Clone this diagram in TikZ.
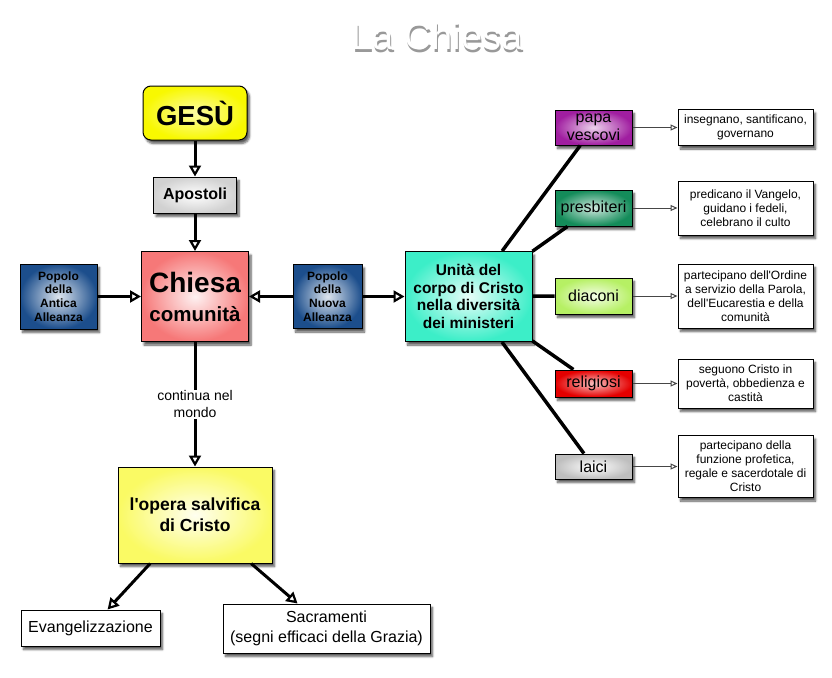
\documentclass[tikz,border=0pt]{standalone}
\usepackage{fontspec}
\setmainfont{Liberation Sans}
\usetikzlibrary{arrows.meta,shadows,shadows.blur,positioning}

\definecolor{gesuY}{RGB}{248,248,0}
\definecolor{chiesaR}{RGB}{246,120,120}
\definecolor{popoloB}{RGB}{28,78,140}
\definecolor{unitaT}{RGB}{60,238,200}
\definecolor{papaP}{RGB}{160,30,160}
\definecolor{presbG}{RGB}{20,140,90}
\definecolor{diacG}{RGB}{182,240,100}
\definecolor{religR}{RGB}{228,0,0}
\definecolor{laiciG}{RGB}{190,190,190}
\definecolor{operaY}{RGB}{250,250,100}
\definecolor{thinline}{RGB}{70,70,70}

\newcommand{\fs}[2]{\fontsize{#1}{#2}\selectfont}

\begin{document}
\begin{tikzpicture}[x=1pt,y=-1pt,
  box/.style={draw=black, line width=1pt, inner sep=2pt, align=center,
    blur shadow={shadow blur steps=6, shadow xshift=2.5pt, shadow yshift=-3.5pt,
      shadow opacity=65}},
  glow/.style 2 args={inner color=#1, outer color=#2},
  ministry/.style={box, inner sep=0pt, minimum width=77pt, font=\fs{16}{18}},
  desc/.style={box, fill=white, minimum width=135pt, font=\fs{12}{14}},
  bigarrow/.style={-{Triangle[open, length=11pt, width=12pt, line width=2.2pt]},
    line width=3pt},
  thinarrow/.style={-{Triangle[open, length=7pt, width=6pt]}, line width=1pt,
    draw=thinline},
  link/.style={line width=3.5pt},
  node distance=152pt]

  \useasboundingbox (0,0) rectangle (832,677);

  % title
  \node[text=black!40, font=\fs{38}{42}] (titleshade) at (438,38.5) {La Chiesa};
  \node[text=white, font=\fs{38}{42}] (title) at (437,36) {La Chiesa};

  % left column
  \node[box, glow={gesuY!35!white}{gesuY}, rounded corners=8pt,
    minimum width=104pt, minimum height=54pt, font=\bfseries\fs{27.5}{30}]
    (gesu) at (195,113) {GESÙ};
  \node[box, glow={white}{laiciG!70!white}, minimum width=83pt, minimum height=36pt,
    font=\bfseries\fs{16}{18}] (apostoli) at (195,195) {Apostoli};
  \node[box, glow={chiesaR!10!white}{chiesaR}, minimum width=107pt, minimum height=90pt,
    font=\bfseries\fs{28}{29}] (chiesa) at (195,296.5)
    {Chiesa\\\fs{20.5}{29}comunità};
  \node[box, glow={popoloB!15!white}{popoloB}, minimum width=77pt, minimum height=65pt,
    font=\bfseries\fs{12}{13.7}] (antica) at (58.5,296.5)
    {Popolo\\della\\Antica\\Alleanza};
  \node[box, glow={popoloB!15!white}{popoloB}, minimum width=69pt, minimum height=64pt,
    font=\bfseries\fs{12}{13.7}] (nuova) at (327.5,296.5)
    {Popolo\\della\\Nuova\\Alleanza};
  \node[box, glow={unitaT!12!white}{unitaT}, minimum width=127pt, minimum height=90pt,
    font=\bfseries\fs{15.5}{17.7}] (unita) at (468.5,296.5)
    {Unità del\\corpo di Cristo\\nella diversità\\dei ministeri};
  \node[box, glow={operaY!10!white}{operaY}, minimum width=154pt, minimum height=96pt,
    font=\bfseries\fs{17.5}{21}] (opera) at (195,515)
    {l\textquotesingle opera salvifica\\di Cristo};
  \node[box, fill=white, minimum width=139pt, minimum height=36pt,
    font=\fs{16}{20}] (evang) at (90.5,628) {Evangelizzazione};
  \node[box, fill=white, minimum width=207pt, minimum height=49pt,
    font=\fs{16}{20}] (sacr) at (326.5,628.5)
    {Sacramenti\\(segni efficaci della Grazia)};

  % ministries
  \node[ministry, glow={papaP!20!white}{papaP}, minimum height=35pt, text depth=-6pt]
    (papa) at (593.5,127.5) {papa\\vescovi};
  \node[ministry, glow={presbG!20!white}{presbG}, minimum height=36pt]
    (presb) at (593.5,208) {presbiteri};
  \node[ministry, glow={diacG!15!white}{diacG}, minimum height=36pt]
    (diac) at (593.5,296) {diaconi};
  \node[ministry, glow={religR!25!white}{religR}, minimum height=27pt]
    (relig) at (593.5,383.5) {religiosi};
  \node[ministry, glow={white}{laiciG}, minimum height=25pt]
    (laici) at (593.5,466.5) {laici};

  \node[desc, minimum height=36pt] (dpapa) [right of=papa]
    {insegnano, santificano,\\governano};
  \node[desc, minimum height=54pt] (dpresb) [right of=presb]
    {predicano il Vangelo,\\guidano i fedeli,\\celebrano il culto};
  \node[desc, minimum height=64pt] (ddiac) [right of=diac]
    {partecipano dell\textquotesingle Ordine\\a servizio della Parola,\\dell\textquotesingle Eucarestia e della\\comunità};
  \node[desc, minimum height=49pt] (drelig) [right of=relig]
    {seguono Cristo in\\povertà, obbedienza e\\castità};
  \node[desc, minimum height=62pt] (dlaici) [right of=laici]
    {partecipano della\\funzione profetica,\\regale e sacerdotale di\\Cristo};

  \path[bigarrow]
  (gesu) edge (apostoli)
  (apostoli) edge (chiesa)
  (antica) edge (chiesa)
  (nuova) edge (chiesa)
  edge (unita)
  (chiesa) edge node[fill=white, inner sep=1pt, align=center, font=\fs{14}{17}]
    {continua nel\\mondo} (opera)
  (opera) edge (evang)
  edge (sacr);

  \path[link]
  (unita) edge (papa)
  edge (presb)
  edge (diac)
  edge (relig)
  edge (laici);

  \path[thinarrow]
  (papa) edge (dpapa)
  (presb) edge (dpresb)
  (diac) edge (ddiac)
  (relig) edge (drelig)
  (laici) edge (dlaici);
\end{tikzpicture}
\end{document}
